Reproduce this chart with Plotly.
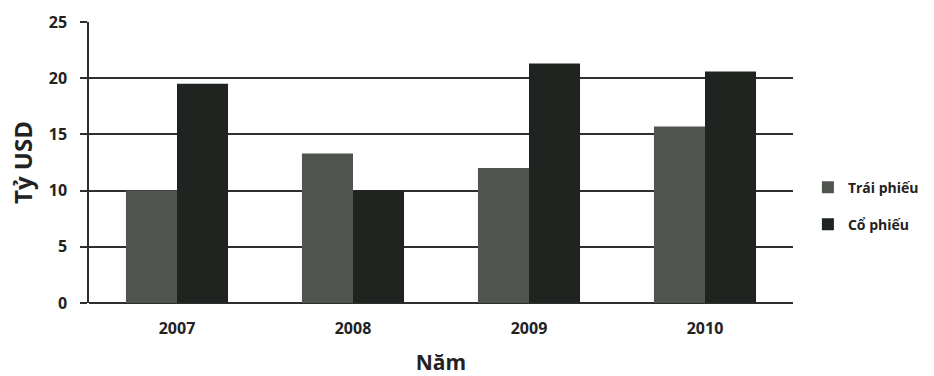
import plotly.graph_objects as go

years = ["2007", "2008", "2009", "2010"]
trai_phieu = [10.0, 13.3, 12.0, 15.7]
co_phieu = [19.5, 10.0, 21.3, 20.6]
y_ticks = [0, 5, 10, 15, 20, 25]

font_family = "Open Sans, Lato, sans-serif"
ink = "#222"
rule = "#2e2e2e"

fig = go.Figure()
fig.add_trace(go.Bar(
    x=years, y=trai_phieu, name="Trái phiếu", legendgroup="a",
    marker=dict(color="#50544f", line=dict(width=0)),
))
fig.add_trace(go.Bar(
    x=years, y=co_phieu, name="Cổ phiếu", legendgroup="b",
    marker=dict(color="#1f2420", line=dict(width=0)),
))

fig.update_layout(
    width=934, height=376,
    margin=dict(l=89, r=141, t=22, b=73, autoexpand=False),
    paper_bgcolor="white", plot_bgcolor="white",
    barmode="group", bargap=0.42, bargroupgap=0,
    font=dict(family=font_family, color=ink, size=12),
    showlegend=True,
    legend=dict(
        xref="container", yref="container",
        x=0.865, y=0.452, xanchor="left", yanchor="middle",
        font=dict(size=14, family=font_family, color=ink, weight="bold"),
        tracegroupgap=16, itemwidth=30,
        bgcolor="rgba(0,0,0,0)",
    ),
    xaxis=dict(
        showgrid=False, showline=False, ticks="",
        ticklabelstandoff=14,
        tickfont=dict(size=16, family=font_family, color=ink, weight="bold"),
        title=dict(text="Năm", font=dict(size=21, family=font_family, color=ink, weight="bold"), standoff=24),
    ),
    yaxis=dict(
        range=[0, 25], tickvals=y_ticks,
        showgrid=True, gridcolor=rule, gridwidth=1.5,
        zeroline=True, zerolinecolor=rule, zerolinewidth=1.5,
        showline=True, linecolor=rule, linewidth=1.5,
        ticks="outside", ticklen=7, tickcolor=rule, tickwidth=1.5,
        ticklabelstandoff=10,
        tickfont=dict(size=16, family=font_family, color=ink, weight="bold"),
        title=dict(text="Tỷ USD", font=dict(size=24, family=font_family, color=ink, weight="bold"), standoff=9),
    ),
)

fig.write_html("out.html")
